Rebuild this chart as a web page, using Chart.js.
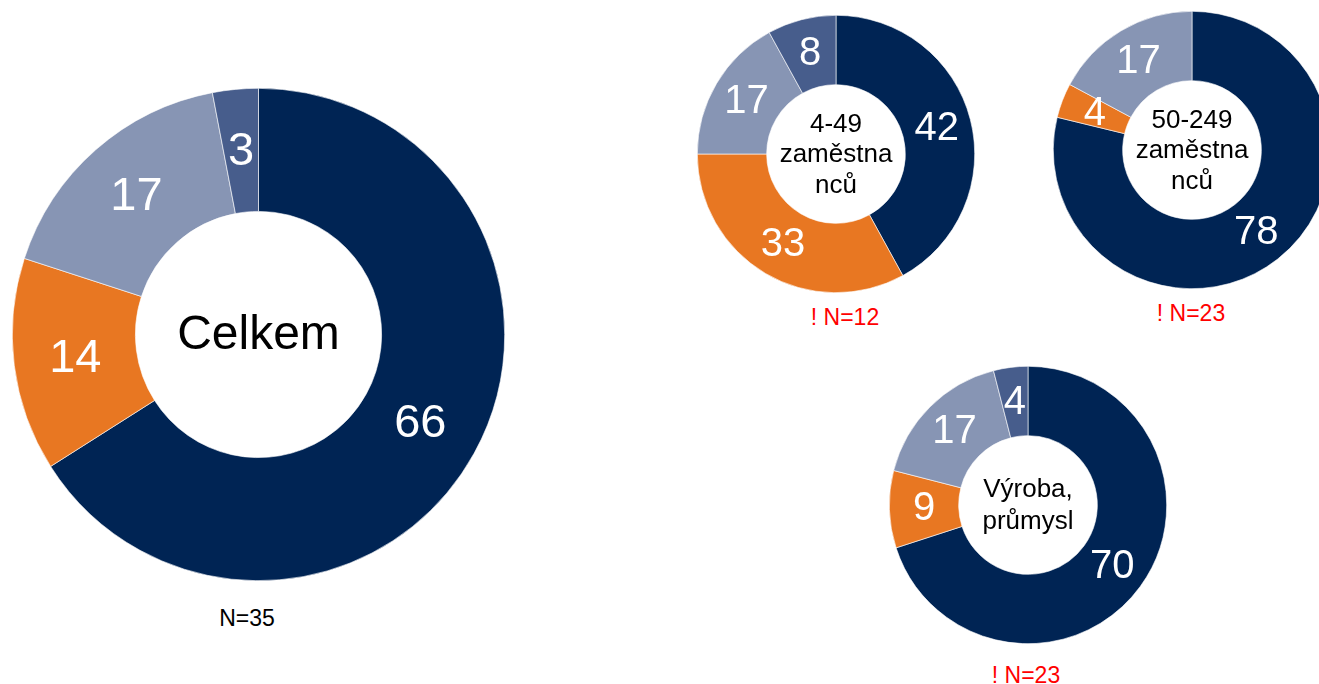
<!DOCTYPE html>
<html>
<head>
<meta charset="utf-8">
<script src="https://cdn.jsdelivr.net/npm/chart.js@4"></script>
<style>
  html, body { margin: 0; padding: 0; background: #fff; overflow: hidden; }
  #wrap { position: relative; width: 1319px; height: 684px; overflow: hidden; font-family: "Liberation Sans", Arial, sans-serif; }
  canvas { position: absolute; }
  .note { position: absolute; transform: translate(-50%, -50%); white-space: nowrap; font-size: 23px; }
  .warn { color: #ff0000; }
</style>
</head>
<body>
<div id="wrap">
  <canvas id="c1" width="493" height="493" style="left:12px;top:88px"></canvas>
  <canvas id="c2" width="278" height="278" style="left:697px;top:15px"></canvas>
  <canvas id="c3" width="278" height="278" style="left:1053px;top:11px"></canvas>
  <canvas id="c4" width="278" height="278" style="left:889px;top:366px"></canvas>
  <div class="note" style="left:247px;top:618px">N=35</div>
  <div class="note warn" style="left:845px;top:317px">! N=12</div>
  <div class="note warn" style="left:1191px;top:313px">! N=23</div>
  <div class="note warn" style="left:1026px;top:675px">! N=23</div>
</div>
<script>
const categories = ["kategorie 1", "kategorie 2", "kategorie 3", "kategorie 4"];
const celkem = [66, 14, 17, 3];
const firmy4_49 = [42, 33, 17, 8];
const firmy50_249 = [78, 4, 17, 0];
const vyroba = [70, 9, 17, 4];
const colors = ["#002454", "#e87722", "#8795b4", "#475d8c"];

const font = '"Liberation Sans", Arial, sans-serif';

const donutLabels = {
  id: "donutLabels",
  afterDatasetsDraw(chart, args, opts) {
    const ctx = chart.ctx;
    const meta = chart.getDatasetMeta(0);
    const values = chart.data.datasets[0].data;
    ctx.save();
    ctx.textAlign = "center";
    ctx.textBaseline = "middle";
    ctx.fillStyle = "#fff";
    ctx.font = opts.valueSize + "px " + font;
    meta.data.forEach((arc, i) => {
      if (!values[i]) return;
      const p = arc.tooltipPosition();
      ctx.fillText(values[i], p.x, p.y + 1);
    });
    const c = meta.data[0];
    ctx.fillStyle = "#000";
    ctx.font = opts.centerSize + "px " + font;
    const lines = opts.center;
    const top = c.y - (lines.length - 1) * opts.lineHeight / 2;
    lines.forEach((t, k) => ctx.fillText(t, c.x, top + k * opts.lineHeight + 1));
    ctx.restore();
  }
};

function donut(id, values, center, valueSize, centerSize, lineHeight) {
  new Chart(document.getElementById(id), {
    type: "doughnut",
    data: {
      labels: categories,
      datasets: [{ data: values, backgroundColor: colors, borderColor: "#ffffff", borderWidth: 0.6 }]
    },
    options: {
      responsive: false,
      animation: false,
      cutout: "50%",
      layout: { padding: 0 },
      plugins: {
        legend: { display: false },
        tooltip: { enabled: false },
        donutLabels: { center, valueSize, centerSize, lineHeight }
      }
    },
    plugins: [donutLabels]
  });
}

donut("c1", celkem, ["Celkem"], 47, 48, 50);
donut("c2", firmy4_49, ["4-49", "zaměstna", "nců"], 40, 26, 30.5);
donut("c3", firmy50_249, ["50-249", "zaměstna", "nců"], 40, 26, 30.5);
donut("c4", vyroba, ["Výroba,", "průmysl"], 40, 26, 32);
</script>
</body>
</html>
